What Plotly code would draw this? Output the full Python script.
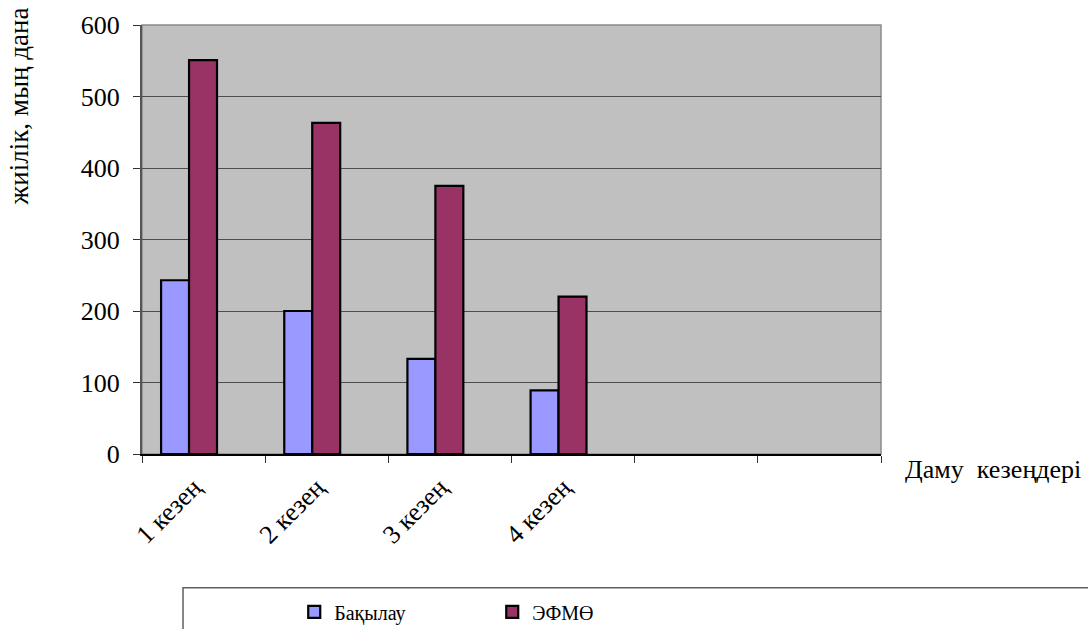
import plotly.graph_objects as go

# Data
stages = ["1 кезең", "2 кезең", "3 кезең", "4 кезең"]
stage_pos = [0, 1, 2, 3]
control = [243, 200, 133, 89]      # Бақылау
efmo = [551, 463, 375, 220]        # ЭФМӨ
y_ticks = [0, 100, 200, 300, 400, 500, 600]

SERIF = "Liberation Serif"
BAR_W = 0.227

fig = go.Figure()
fig.add_trace(go.Bar(
    x=stage_pos, y=control, name="Бақылау",
    width=BAR_W, offset=-0.345,
    marker=dict(color="#9999FF", line=dict(color="black", width=2.2)),
))
fig.add_trace(go.Bar(
    x=stage_pos, y=efmo, name="ЭФМӨ",
    width=BAR_W, offset=-0.345 + BAR_W,
    marker=dict(color="#993366", line=dict(color="black", width=2.2)),
))

fig.update_layout(
    width=1088, height=629,
    margin=dict(l=142, r=207, t=25, b=175, autoexpand=False),
    paper_bgcolor="white",
    plot_bgcolor="#C0C0C0",
    font=dict(family=SERIF, color="black", size=26),
    barmode="overlay",
    showlegend=True,
    legend=dict(
        orientation="h",
        x=0.206, xanchor="left",
        y=-0.368, yanchor="middle",
        font=dict(family=SERIF, size=20, color="black"),
        entrywidth=153, entrywidthmode="pixels",
        itemwidth=30,
        bgcolor="rgba(0,0,0,0)",
    ),
    xaxis=dict(
        range=[-0.5, 5.5],
        tickmode="array", tickvals=stage_pos, ticktext=stages,
        ticks="", tickangle=-45,
        ticklabelstandoff=6, ticklabelshift=-10,
        tickfont=dict(family=SERIF, size=26),
        showgrid=False, zeroline=False, automargin=False,
        showline=True, linecolor="black", linewidth=1.5,
        minor=dict(tickmode="array",
                   tickvals=[-0.5, 0.5, 1.5, 2.5, 3.5, 4.5, 5.5],
                   ticks="outside", ticklen=7, tickcolor="#333333", tickwidth=1.2),
    ),
    yaxis=dict(
        range=[0, 600],
        tickmode="array", tickvals=y_ticks,
        ticks="outside", ticklen=7, tickcolor="#333333", tickwidth=1.2,
        ticklabelstandoff=8,
        tickfont=dict(family=SERIF, size=26),
        showgrid=True, gridcolor="#4d4d4d", gridwidth=1.2,
        zeroline=False, automargin=False,
        showline=True, linecolor="#555555", linewidth=2,
    ),
    shapes=[
        # plot area border
        dict(type="rect", xref="paper", yref="paper", x0=0, x1=1, y0=0, y1=1,
             line=dict(color="#8a8a8a", width=1.5), layer="below"),
        # legend frame
        dict(type="rect", xref="paper", yref="paper",
             x0=0.0555, x1=1.3, y0=-0.312, y1=-0.45,
             line=dict(color="#606060", width=1.5)),
    ],
    annotations=[
        dict(text="жиілік, мың дана", xref="paper", yref="paper",
             x=-0.166, y=0.811, textangle=-90, showarrow=False,
             xanchor="center", yanchor="middle",
             font=dict(family=SERIF, size=27)),
        dict(text="Даму  кезеңдері", xref="paper", yref="paper",
             x=1.152, y=-0.037, showarrow=False,
             xanchor="center", yanchor="middle",
             font=dict(family=SERIF, size=26)),
    ],
)

fig.write_html("out.html")
